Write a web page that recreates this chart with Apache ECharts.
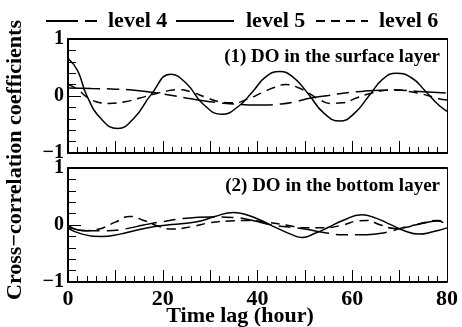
<!DOCTYPE html>
<html>
<head>
<meta charset="utf-8">
<script src="https://cdn.jsdelivr.net/npm/echarts@6/dist/echarts.min.js"></script>
<style>
  html, body { margin: 0; padding: 0; background: #fff; }
  #main { width: 462px; height: 327px; }
</style>
</head>
<body>
<div id="main"></div>
<script>
// time lag (hour) / coefficient pairs
// (1) surface layer
const surfLevel4 = [[0,0.14],[5,0.13],[10,0.12],[14,0.1],[18,0.06],[22,0.01],[26,-0.05],[30,-0.1],[35,-0.14],[40,-0.16],[45,-0.14],[48,-0.1],[51,-0.04],[55,0.01],[58,0.05],[62,0.08],[66,0.1],[70,0.1],[74,0.08],[78,0.06],[80,0.05]];
const surfLevel5 = [[0,0.66],[2,0.45],[4,0.0],[7,-0.4],[10.5,-0.57],[14,-0.38],[17.5,0.02],[21.7,0.38],[25,0.22],[28.5,-0.14],[32.5,-0.32],[36,-0.18],[39,0.08],[41.8,0.34],[44.7,0.43],[47.5,0.33],[50.6,0.05],[54,-0.3],[57.4,-0.44],[60.5,-0.3],[63.5,0.0],[66.5,0.3],[69.3,0.4],[72.5,0.32],[75.5,0.08],[78,-0.14],[80,-0.27]];
const surfLevel6 = [[0,0.2],[2,0.12],[4,-0.02],[6,-0.1],[8.6,-0.13],[12,-0.1],[15,-0.04],[18,0.03],[21,0.09],[23.5,0.11],[26,0.07],[29,-0.02],[32,-0.1],[35,-0.12],[38,-0.05],[41,0.06],[43.5,0.15],[46,0.2],[48.5,0.15],[51,0.04],[53,-0.06],[55.5,-0.13],[58,-0.12],[61,-0.03],[64,0.05],[67,0.1],[69,0.11],[72,0.08],[75,0.03],[78,-0.04],[80,-0.07]];
// (2) bottom layer
const botLevel4 = [[0,-0.04],[4,-0.1],[8,-0.1],[12,-0.07],[16,0.0],[20,0.06],[25,0.12],[30,0.14],[35,0.13],[39,0.08],[43,0.0],[47,-0.04],[50,-0.07],[54,-0.13],[58,-0.17],[63,-0.17],[67,-0.13],[71,-0.04],[75,0.03],[78,0.07],[80,0.0]];
const botLevel5 = [[0,-0.06],[3,-0.16],[7,-0.2],[11,-0.16],[14,-0.1],[18,-0.03],[21,0.0],[25,0.03],[28,0.07],[31,0.15],[35,0.22],[38,0.17],[41,0.07],[44,-0.05],[47,-0.16],[49.5,-0.22],[52,-0.15],[55,-0.04],[58,0.08],[62,0.18],[65,0.12],[68,0.01],[71,-0.1],[74,-0.16],[77,-0.12],[80,-0.05]];
const botLevel6 = [[0,0.0],[3,-0.1],[6,-0.08],[10,0.05],[13,0.15],[16,0.08],[19,-0.02],[22,-0.07],[26,-0.03],[30,0.04],[34,0.07],[38,0.08],[42,0.05],[46,0.0],[50,-0.05],[54,-0.05],[58,0.0],[61,0.07],[63,0.08],[66,0.0],[69,-0.06],[72,-0.03],[75,0.04],[78,0.08],[80,0.06]];

const levelNames = ['level 4', 'level 5', 'level 6'];
const panelTitles = ['(1) DO in the surface layer', '(2) DO in the bottom layer'];
const xTitle = 'Time lag (hour)';
const yTitle = 'Cross\u2212correlation coefficients';

const FONT = "'Liberation Serif', 'Times New Roman', serif";
const dashes = [[32, 7, 12, 7], 'solid', [9, 6]];

var chart = echarts.init(document.getElementById('main'), null, { renderer: 'canvas' });

let grids = [
  { left: 68, top: 39, width: 379, height: 114 },
  { left: 68, top: 168, width: 379, height: 114 }
];

let bottomX = (gi) => ({
  type: 'value', gridIndex: gi, min: 0, max: 80, interval: 10,
  axisLine: { onZero: false, lineStyle: { color: '#000', width: 2 } },
  axisTick: { inside: true, length: 12, lineStyle: { color: '#000', width: 1 } },
  minorTick: { show: true, splitNumber: 5, length: 6, lineStyle: { color: '#000', width: 1 } },
  splitLine: { show: false },
  axisLabel: {
    show: gi === 1, margin: 6, color: '#000',
    fontFamily: FONT, fontWeight: 'bold', fontSize: 22,
    formatter: (v) => (v % 20 === 0 ? String(v) : '')
  }
});
let topX = (gi) => ({
  type: 'value', gridIndex: gi, position: 'top', min: 0, max: 80,
  axisLine: { onZero: false, lineStyle: { color: '#000', width: 2 } },
  axisTick: { show: false }, axisLabel: { show: false }, splitLine: { show: false }
});
let leftY = (gi) => ({
  type: 'value', gridIndex: gi, min: -1, max: 1, interval: 1,
  axisLine: { onZero: false, lineStyle: { color: '#000', width: 2 } },
  axisTick: { inside: true, length: 13, lineStyle: { color: '#000', width: 1 } },
  minorTick: { show: true, splitNumber: 5, length: 8, lineStyle: { color: '#000', width: 1 } },
  splitLine: { show: false },
  axisLabel: {
    margin: 4, color: '#000', fontFamily: FONT, fontWeight: 'bold', fontSize: 20,
    formatter: (v) => (v < 0 ? '\u2212' + Math.abs(v) : String(v))
  }
});
let rightY = (gi) => ({
  type: 'value', gridIndex: gi, position: 'right', min: -1, max: 1,
  axisLine: { onZero: false, lineStyle: { color: '#000', width: 1 } },
  axisTick: { show: false }, axisLabel: { show: false }, splitLine: { show: false }
});

let mkSeries = (name, data, idx, k) => ({
  name: name, type: 'line', xAxisIndex: idx, yAxisIndex: idx,
  data: data, smooth: true, symbol: 'none', silent: true,
  color: '#000',
  itemStyle: { color: '#000' },
  lineStyle: { color: '#000', width: 1.5, type: dashes[k] }
});

let legendAt = (k, left, width, gap) => ({
  data: [levelNames[k]], left: left, top: 10, padding: 0,
  itemWidth: width, itemHeight: 14,
  itemStyle: { opacity: 0 },
  textStyle: { color: '#000', fontFamily: FONT, fontWeight: 'bold', fontSize: 22, padding: [0, 0, 0, gap] },
  selectedMode: false
});

let option = {
  animation: false,
  backgroundColor: '#fff',
  grid: grids,
  legend: [legendAt(0, 45, 52, 5), legendAt(1, 175, 58, 7), legendAt(2, 315, 52, 6)],
  xAxis: [bottomX(0), bottomX(1), topX(0), topX(1)],
  yAxis: [leftY(0), leftY(1), rightY(0), rightY(1)],
  series: [
    mkSeries(levelNames[0], surfLevel4, 0, 0),
    mkSeries(levelNames[1], surfLevel5, 0, 1),
    mkSeries(levelNames[2], surfLevel6, 0, 2),
    mkSeries(levelNames[0], botLevel4, 1, 0),
    mkSeries(levelNames[1], botLevel5, 1, 1),
    mkSeries(levelNames[2], botLevel6, 1, 2)
  ],
  graphic: [
    { type: 'text', x: 440, y: 57, style: { text: panelTitles[0], fill: '#000', font: 'bold 19px ' + FONT, textAlign: 'right', textVerticalAlign: 'middle' } },
    { type: 'text', x: 440, y: 186, style: { text: panelTitles[1], fill: '#000', font: 'bold 19px ' + FONT, textAlign: 'right', textVerticalAlign: 'middle' } },
    { type: 'text', x: 240, y: 316, style: { text: xTitle, fill: '#000', font: 'bold 22px ' + FONT, textAlign: 'center', textVerticalAlign: 'middle' } },
    { type: 'text', x: 15, y: 160, rotation: Math.PI / 2, style: { text: yTitle, fill: '#000', font: 'bold 22px ' + FONT, textAlign: 'center', textVerticalAlign: 'middle' } }
  ]
};

chart.setOption(option);
</script>
</body>
</html>
